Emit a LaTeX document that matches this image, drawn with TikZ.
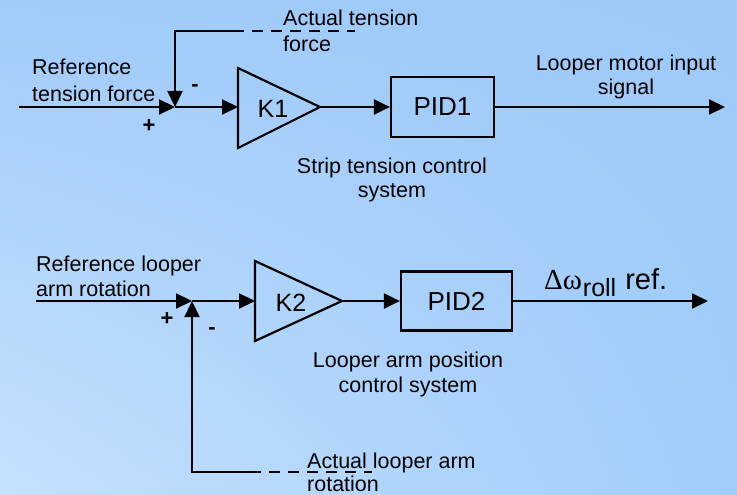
\documentclass[tikz,border=0pt]{standalone}
\usepackage{fontspec}
\setmainfont{Liberation Sans}
\newfontfamily\greekfont{Liberation Serif}
\usetikzlibrary{arrows.meta,shadings}
\definecolor{bgul}{RGB}{160,204,250}
\definecolor{bgur}{RGB}{158,202,248}
\definecolor{bgll}{RGB}{198,225,253}
\definecolor{bglr}{RGB}{160,205,250}
\begin{document}
\begin{tikzpicture}[x=1pt,y=-1pt,
  wire/.style={line width=2.2pt},
  arrow/.style={wire,-{Triangle[length=16pt,width=15pt]}},
  dashline/.style={wire,dash pattern=on 11pt off 8pt},
  blk/.style={draw,line width=2.2pt,line join=miter},
  txt/.style={font=\fontsize{21.5}{24}\selectfont,inner sep=0pt},
  sign/.style={font=\fontsize{22}{22}\selectfont\bfseries,inner sep=0pt},
  big/.style={font=\fontsize{25}{25}\selectfont,inner sep=0pt},
  box/.style={blk,inner sep=0pt,font=\fontsize{26}{26}\selectfont}]
\useasboundingbox (0,0) rectangle (737,495);
\shade[upper left=bgul,upper right=bgur,lower left=bgll,lower right=bglr] (0,0) rectangle (737,495);

% ---------- top loop ----------
\coordinate (in1) at (19,107);
\coordinate (s1) at (175,107);
\coordinate (fb1) at (175,31);
\coordinate (fb1a) at (233,31);
\coordinate (fb1b) at (355,31);
\coordinate (k1top) at (238,68);
\coordinate (k1bot) at (238,148);
\coordinate (k1in) at (238,107);
\coordinate (k1out) at (320,107);
\coordinate (out1) at (725,107);

\draw[blk] (k1top) -- (k1out) -- (k1bot) -- cycle;
\node[big] (k1) at (273,109) {K1};
\node[box,minimum width=103pt,minimum height=60pt] (pid1) at (442.5,107) {PID1};

\draw[arrow] (in1) -- (s1);
\draw[arrow] (fb1a) -- (fb1) -- (s1);
\draw[dashline] (fb1a) -- (fb1b);
\draw[arrow] (s1) -- (k1in);
\draw[arrow] (k1out) -- (pid1.west);
\draw[arrow] (pid1.east) -- (out1);

\node[txt,anchor=base west] (rt1) at (32,75) {Reference};
\node[txt,anchor=base west] (rt2) at (32,102) {tension force};
\node[txt,anchor=base west] (at1) at (283,26) {Actual tension};
\node[txt,anchor=base west] (at2) at (283,52) {force};
\node[txt,anchor=base] (lm1) at (626,71) {Looper motor input};
\node[txt,anchor=base] (lm2) at (626,95) {signal};
\node[txt,anchor=base] (st1) at (392,173) {Strip tension control};
\node[txt,anchor=base] (st2) at (392,197) {system};
\node[sign] (p1) at (149,126) {+};
\node[sign] (m1) at (195,88) {-};

% ---------- bottom loop ----------
\coordinate (in2) at (36,301);
\coordinate (s2) at (192,301);
\coordinate (fb2) at (192,472);
\coordinate (fb2a) at (250,472);
\coordinate (fb2b) at (372,472);
\coordinate (k2top) at (255,261);
\coordinate (k2bot) at (255,341);
\coordinate (k2in) at (255,301);
\coordinate (k2out) at (342,301);
\coordinate (out2) at (708,301);

\draw[blk] (k2top) -- (k2out) -- (k2bot) -- cycle;
\node[big] (k2) at (291,303) {K2};
\node[box,minimum width=111pt,minimum height=59pt] (pid2) at (456.5,301) {PID2};

\draw[arrow] (in2) -- (s2);
\draw[arrow] (fb2a) -- (fb2) -- (s2);
\draw[dashline] (fb2a) -- (fb2b);
\draw[arrow] (s2) -- (k2in);
\draw[arrow] (k2out) -- (pid2.west);
\draw[arrow] (pid2.east) -- (out2);

\node[txt,anchor=base west] (rl1) at (36,271) {Reference looper};
\node[txt,anchor=base west] (rl2) at (36,296) {arm rotation};
\node[txt,anchor=base west] (al1) at (307,468) {Actual looper arm};
\node[txt,anchor=base west] (al2) at (307,491) {rotation};
\node[txt,anchor=base] (lp1) at (408,367) {Looper arm position};
\node[txt,anchor=base] (lp2) at (408,392) {control system};
\node[txt,font=\fontsize{25}{25}\selectfont,anchor=base west] (dw) at (544,289) {{\greekfont\fontsize{29}{29}\selectfont Δω}\kern1pt\raisebox{-7pt}{roll}\hspace{9pt}{\fontsize{29}{29}\selectfont ref.}};
\node[sign] (p2) at (167,319) {+};
\node[sign] (m2) at (212,331) {-};
\end{tikzpicture}
\end{document}
